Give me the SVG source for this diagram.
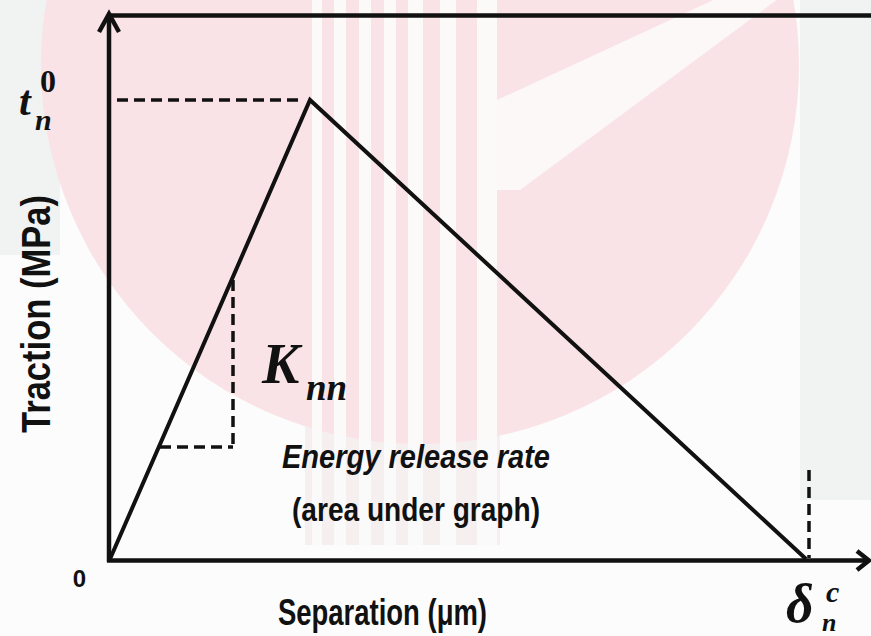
<svg xmlns="http://www.w3.org/2000/svg" width="871" height="636" viewBox="0 0 871 636">
<defs>
<style>
.ax{stroke:#111;stroke-width:4.5;fill:none;stroke-linecap:butt}
.cv{stroke:#111;stroke-width:4;fill:none;stroke-linejoin:miter}
.ds{stroke:#111;stroke-width:3.5;fill:none;stroke-dasharray:11 6}
.lab{font-family:"Liberation Sans",Arial,sans-serif;font-weight:bold;fill:#111}
.math{font-family:"Liberation Serif","Times New Roman",serif;font-weight:bold;font-style:italic;fill:#111}
.up{font-style:normal}
.wm{fill:#f9e3e6}
.wh{fill:#fdfdfd}
.gr{fill:#f1f2f2}
</style>
<clipPath id="circ"><circle cx="420" cy="65" r="379"/></clipPath>
</defs>
<g id="background">
<rect x="0" y="0" width="871" height="636" fill="#fcfcfc"/>
<rect class="gr" x="0" y="0" width="60" height="255"/>
<rect class="gr" x="800" y="0" width="71" height="500"/>
<rect x="305" y="300" width="195" height="245" fill="#f5eff0"/>
<circle class="wm" cx="420" cy="65" r="379"/>
<g clip-path="url(#circ)">
<path class="wh" d="M497 100 L735 -10 L790 -10 L520 190 L497 190 Z" opacity="0.8"/>
<path class="wh" d="M560 470 L900 230 L900 300 L600 500 Z" opacity="0.7"/>
</g>
<g opacity="0.85">
<rect class="wh" x="312" y="0" width="10" height="545"/>
<rect class="wh" x="334" y="0" width="12" height="545"/>
<rect class="wh" x="359" y="0" width="12" height="545"/>
<rect class="wh" x="384" y="0" width="12" height="545"/>
<rect class="wh" x="408" y="0" width="15" height="545"/>
<rect class="wh" x="440" y="0" width="16" height="545"/>
<rect class="wh" x="477" y="0" width="20" height="545"/>
</g>
</g>
<g id="connectors">
<line class="ax" x1="107" y1="15.5" x2="871" y2="15.5"/>
<line class="ax" x1="109" y1="562" x2="109" y2="15"/>
<polyline class="ax" points="99,32 109,14 119,32"/>
<line class="ax" x1="107" y1="560.5" x2="868" y2="560.5"/>
<polyline class="ax" points="857,551 869,560.5 857,570"/>
<polyline class="cv" points="110,559 310,100 806,559"/>
<line class="ds" x1="117" y1="100" x2="304" y2="100"/>
<line class="ds" x1="233" y1="280" x2="233" y2="447"/>
<line class="ds" x1="160" y1="447" x2="233" y2="447"/>
<line class="ds" x1="809" y1="470" x2="809" y2="558"/>
</g>
<g id="y-label">
<text class="lab" transform="translate(50,314) rotate(-90)" text-anchor="middle" font-size="40" textLength="238" lengthAdjust="spacingAndGlyphs">Traction (MPa)</text>
</g>
<g id="x-label">
<text class="lab" x="382.5" y="625" text-anchor="middle" font-size="36" textLength="209" lengthAdjust="spacingAndGlyphs">Separation (μm)</text>
</g>
<g id="origin-label">
<text class="lab" x="79.5" y="587" text-anchor="middle" font-size="24">0</text>
</g>
<g id="tn0">
<text class="math" x="19" y="115" font-size="42">t</text>
<text class="math up" x="40" y="92" font-size="32">0</text>
<text class="math" x="35" y="130" font-size="30">n</text>
</g>
<g id="knn">
<text class="math" x="262" y="383" font-size="56">K</text>
<text class="math" x="306" y="400" font-size="37">nn</text>
</g>
<g id="deltanc">
<text class="math" x="786" y="622" font-size="54">δ</text>
<text class="math" x="826" y="602" font-size="30">c</text>
<text class="math" x="822" y="631" font-size="26">n</text>
</g>
<g id="energy-label">
<text class="lab" x="416" y="468" text-anchor="middle" font-size="33" font-style="italic" textLength="268" lengthAdjust="spacingAndGlyphs">Energy release rate</text>
<text class="lab" x="416" y="521" text-anchor="middle" font-size="33" textLength="248" lengthAdjust="spacingAndGlyphs">(area under graph)</text>
</g>
</svg>
